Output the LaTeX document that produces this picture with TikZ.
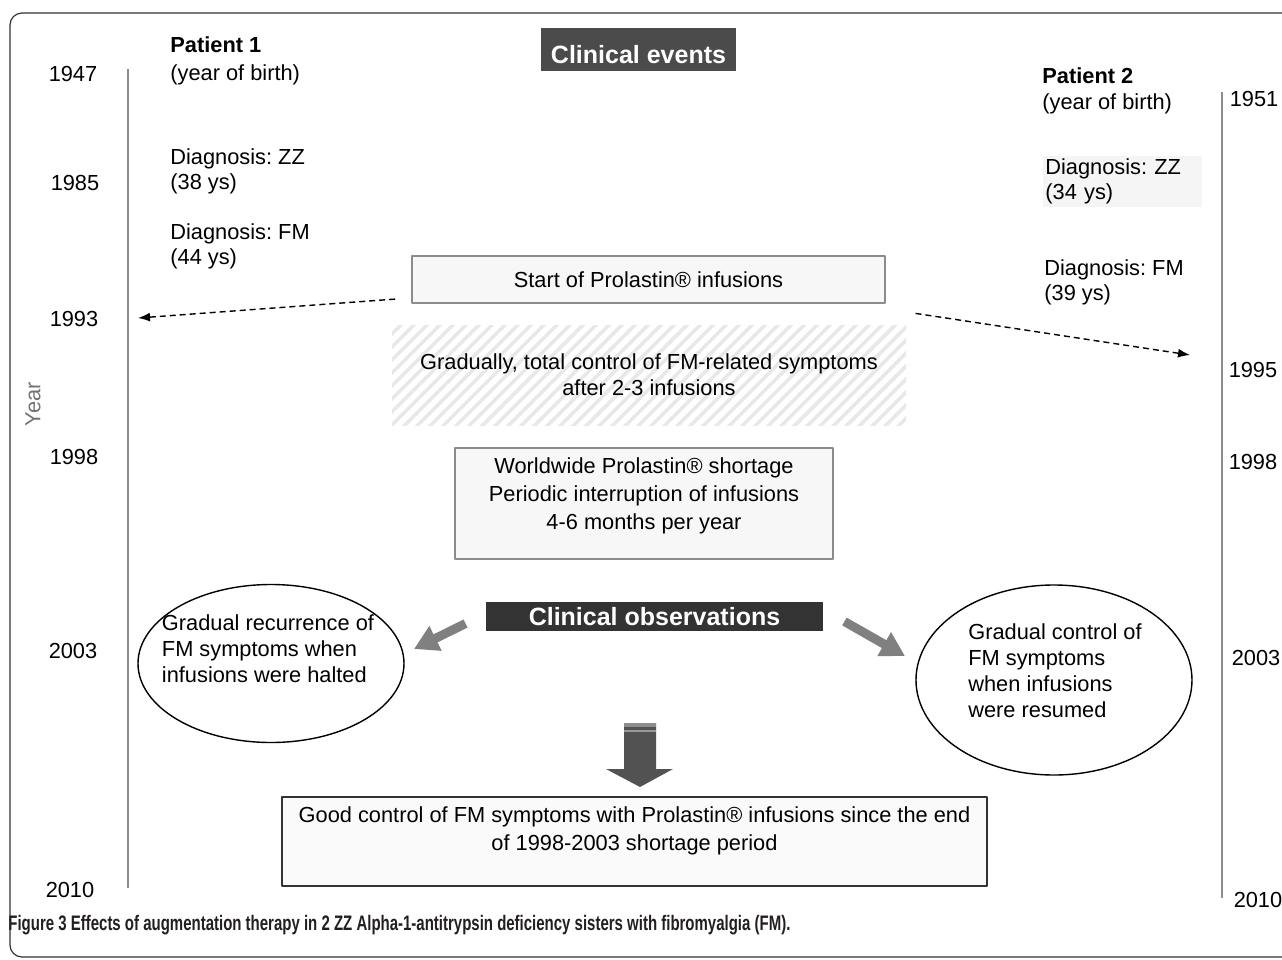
\documentclass[tikz,border=0pt]{standalone}
\usepackage{fontspec}
\usepackage{graphicx}
\setmainfont{Liberation Sans}
\usetikzlibrary{arrows.meta,shapes.geometric,patterns.meta}
\definecolor{evtgray}{HTML}{4B4B4B}
\definecolor{obsgray}{HTML}{333333}
\definecolor{axgray}{HTML}{8C8C8C}
\definecolor{arrgray}{HTML}{808080}
\definecolor{boxfill}{HTML}{F7F7F7}
\definecolor{capcol}{HTML}{231F20}
\frenchspacing
\newcommand{\topbox}[3]{\parbox[c][#1][t]{#2}{\centering\fontsize{10.9}{14}\selectfont\vspace*{3pt}\strut#3}}
\begin{document}
\begin{tikzpicture}[x=0.5pt,y=-0.5pt,line join=round,
	font=\fontsize{10.9}{13}\selectfont,
	txt/.style={anchor=west,align=left,inner sep=0pt,font=\fontsize{10.9}{12.5}\selectfont},
	bold/.style={font=\bfseries\fontsize{10.9}{13}\selectfont},
	hdr/.style={font=\bfseries\fontsize{12.5}{15}\selectfont,text=white,inner sep=0pt},
	evbox/.style={draw=axgray,line width=0.9pt,fill=boxfill,inner sep=0pt},
	obsell/.style={ellipse,draw=black,line width=0.7pt,inner sep=0pt},
	obstxt/.style={align=left,inner sep=0pt},
	axis/.style={axgray,line width=0.9pt},
	dasharr/.style={line width=0.7pt,dash pattern=on 3pt off 2pt,-{Latex[length=6pt,width=4.5pt]}},
	grayarr/.style={arrgray,line width=4.5pt,-{Triangle[length=12pt,width=13pt]}},
	bigarr/.style={fill=black!68}]
	\useasboundingbox (0,0) rectangle (1282,960);
	%==frame and time axes
	\draw[black!80,line width=0.6pt,rounded corners=6pt] (10,13) rectangle (1300,957);
	\draw[axis] (128,69)coordinate(L0)--(128,888)coordinate(L1);
	\draw[axis] (1222,92)coordinate(R0)--(1222,898)coordinate(R1);
	\foreach \x/\y/\t in {73/74/1947,75/183/1985,74/319/1993,74/457/1998,73/651/2003,70/890/2010}\node[inner sep=0pt] (l\t) at (\x,\y) {\t};
	\foreach \x/\y/\t in {1254/99/1951,1253/370/1995,1253/462/1998,1256/658/2003,1258/900/2010}\node[inner sep=0pt] (r\t) at (\x,\y) {\t};
	\node[rotate=90,inner sep=0pt,text=black!55] (ylab) at (33,404) {Year};
	%==patient 1
	\node[txt,bold] (p1) at (170,45) {Patient 1};
	\node[txt] (p1dob) at (170,75) {(year of birth)};
	\node[txt] (p1zz) at (170,171) {Diagnosis: ZZ\\(38 ys)};
	\node[txt] (p1fm) at (170,246) {Diagnosis: FM\\(44 ys)};
	%==patient 2
	\node[txt,bold] (p2) at (1042,76) {Patient 2};
	\node[txt] (p2dob) at (1042,104) {(year of birth)};
	\node[txt,fill=black!4,text width=77.5pt,minimum height=25.5pt,inner sep=1pt] (p2zz) at (1043,181) {Diagnosis: ZZ\\(34 ys)};
	\node[txt] (p2fm) at (1044,282) {Diagnosis: FM\\(39 ys)};
	%==clinical events
	\node[hdr,fill=evtgray,minimum width=97.5pt,minimum height=21.5pt,text height=14pt,text depth=0pt] (events) at (638.5,49.5) {Clinical events};
	\node[evbox,minimum width=236.5pt,minimum height=23.5pt] (start) at (648.5,279.5) {Start of Prolastin® infusions};
	\node[pattern={Lines[angle=45,distance=4.6pt,line width=1.8pt]},pattern color=black!9,minimum width=257pt,minimum height=50pt,align=center,inner sep=0pt] (ctrl) at (649,375) {Gradually, total control of FM-related symptoms\\after 2-3 infusions};
	\node[evbox] (short) at (644,503.5) {\topbox{55.5pt}{189pt}{Worldwide Prolastin® shortage\\Periodic interruption of infusions\\4-6 months per year}};
	\coordinate (t93) at (138,318);
	\coordinate (t95) at (1190,355);
	\draw[dasharr,shorten <=8pt] ([yshift=3pt]start.south west)--(t93);
	\draw[dasharr,shorten <=15pt] ([yshift=-2.5pt]start.south east)--(t95);
	%==clinical observations
	\node[hdr,fill=obsgray,minimum width=168.5pt,minimum height=14.5pt] (obs) at (654.5,616.5) {Clinical observations};
	\node[obsell,minimum width=133pt,minimum height=79pt] (recur) at (271,663.5) {};
	\node[obstxt] (recurtxt) at (268,649) {Gradual recurrence of\\FM symptoms when\\infusions were halted};
	\node[obsell,minimum width=138pt,minimum height=95pt] (resume) at (1054,680) {};
	\node[obstxt] (resumetxt) at (1055,671) {Gradual control of\\FM symptoms\\when infusions\\were resumed};
	\coordinate (ltip) at (414,649);
	\coordinate (rtip) at (905,656);
	\draw[grayarr] ([xshift=-10pt,yshift=-3.5pt]obs.west)--(ltip);
	\draw[grayarr] ([xshift=10.5pt,yshift=-2.5pt]obs.east)--(rtip);
	%==outcome
	\fill[bigarr] (624,723)--(656,723)--(656,769)--(673,769)--(640,787)--(606,769)--(624,769)--cycle;
	\fill[black!45] (624,723) rectangle (656,727);
	\fill[black!40] (624,729.5) rectangle (656,731.5);
	\node[draw=black!80,line width=0.8pt,fill=black!2,inner sep=0pt] (good) at (634.5,841.5) {\topbox{44.5pt}{352.5pt}{Good control of FM symptoms with Prolastin® infusions since the end\\of 1998-2003 shortage period}};
	%==caption
	\node[anchor=west,inner sep=0pt,text=capcol,font=\bfseries\fontsize{10.5}{12}\selectfont] (cap) at (8,925) {\resizebox{391pt}{\height}{Figure 3 Effects of augmentation therapy in 2 ZZ Alpha-1-antitrypsin deficiency sisters with fibromyalgia (FM).}};
\end{tikzpicture}
\end{document}
